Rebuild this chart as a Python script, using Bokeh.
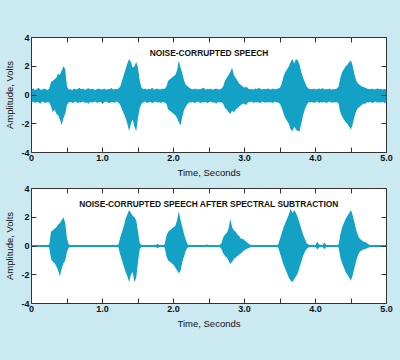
from bokeh.plotting import figure
from bokeh.layouts import column
from bokeh.models import FixedTicker, LinearAxis, Label, ColumnDataSource, Range1d
from bokeh.embed import file_html
from bokeh.resources import INLINE

# ---- data (envelope of the waveform, one reading every 0.025 s) ----
STEP = 0.025

noisy_upper = [
    0.40, 0.45, 0.35, 0.42, 0.50, 0.38, 0.36, 0.46, 0.40, 0.35, 0.45,
    0.90, 1.00, 1.10, 1.20, 1.50, 1.40, 1.70, 2.00, 1.80, 0.60, 0.38,
    0.40, 0.35, 0.45, 0.38, 0.42, 0.50, 0.40, 0.45, 0.36, 0.40, 0.48, 0.38, 0.44, 0.40,
    0.35, 0.42, 0.46, 0.38, 0.40, 0.45, 0.36, 0.42, 0.40, 0.48, 0.38, 0.42, 0.40, 0.45,
    0.60, 1.00, 1.40, 1.80, 2.20, 2.50, 2.30, 1.90, 2.00, 2.30, 1.90, 1.00, 0.50,
    0.40, 0.45, 0.38, 0.42, 0.40, 0.50, 0.36, 0.42, 0.45, 0.38, 0.40, 0.46, 0.42,
    0.60, 1.00, 1.10, 1.20, 1.30, 1.40, 1.70, 2.40, 1.90, 1.50, 1.00, 0.70, 0.60, 0.50,
    0.42, 0.40, 0.46, 0.38, 0.42, 0.40, 0.45, 0.50, 0.38, 0.42, 0.40, 0.46, 0.36, 0.42,
    0.45, 0.40, 0.38, 0.45,
    0.60, 1.00, 1.20, 1.40, 1.60, 1.90, 1.40, 1.20, 1.00, 0.80, 0.70, 0.60, 0.50, 0.60, 0.45,
    0.40, 0.42, 0.38, 0.45, 0.40, 0.50, 0.42, 0.38, 0.44, 0.40, 0.46, 0.42, 0.38, 0.45,
    0.40, 0.42, 0.45,
    0.50, 0.80, 1.30, 1.60, 1.80, 2.00, 2.30, 2.50, 2.20, 2.50, 2.40, 2.10, 1.60, 1.20,
    0.90, 0.60, 0.45,
    0.42, 0.40, 0.46, 0.38, 0.42, 0.45, 0.40, 0.48, 0.38, 0.42, 0.40, 0.45, 0.36, 0.42,
    0.40, 0.46,
    0.60, 1.20, 1.60, 1.80, 2.00, 2.10, 2.30, 2.40, 2.00, 1.40, 1.00, 0.80, 0.70, 0.60,
    0.55, 0.50, 0.45,
    0.42, 0.40, 0.45, 0.38, 0.42, 0.46, 0.40, 0.44, 0.38, 0.42, 0.40,
]
noisy_lower = [
    -0.50, -0.45, -0.55, -0.48, -0.52, -0.60, -0.46, -0.50, -0.55, -0.48, -0.52,
    -0.80, -1.20, -1.00, -1.30, -1.40, -1.70, -2.10, -1.60, -1.30, -0.70, -0.50,
    -0.48, -0.55, -0.50, -0.46, -0.58, -0.50, -0.52, -0.45, -0.55, -0.50, -0.60, -0.48,
    -0.52, -0.50, -0.46, -0.55, -0.50, -0.48, -0.62, -0.50, -0.46, -0.52, -0.55, -0.48,
    -0.50, -0.54, -0.46, -0.52,
    -0.70, -1.00, -1.30, -1.60, -2.00, -2.50, -2.00, -1.70, -2.20, -2.50, -1.60, -0.90, -0.60,
    -0.50, -0.46, -0.55, -0.50, -0.48, -0.56, -0.50, -0.46, -0.52, -0.50, -0.55, -0.48, -0.52,
    -0.60, -1.00, -1.10, -1.20, -1.30, -1.40, -1.60, -1.90, -2.10, -1.50, -1.00, -0.80,
    -0.60, -0.50,
    -0.52, -0.48, -0.55, -0.50, -0.46, -0.58, -0.50, -0.52, -0.48, -0.55, -0.50, -0.46,
    -0.54, -0.50, -0.60, -0.48, -0.52, -0.50,
    -0.60, -0.90, -1.00, -1.20, -1.30, -1.10, -1.20, -1.00, -0.90, -0.80, -0.70, -0.60,
    -0.60, -0.70, -0.50,
    -0.50, -0.46, -0.55, -0.48, -0.52, -0.50, -0.58, -0.46, -0.50, -0.54, -0.48, -0.52,
    -0.50, -0.56, -0.46, -0.50, -0.52,
    -0.60, -0.90, -1.30, -1.60, -1.80, -2.00, -2.40, -2.50, -2.20, -2.40, -2.50, -2.50,
    -2.00, -1.40, -1.00, -0.70, -0.50,
    -0.52, -0.48, -0.55, -0.50, -0.46, -0.56, -0.50, -0.52, -0.48, -0.55, -0.50, -0.46,
    -0.54, -0.50, -0.52, -0.48,
    -0.60, -1.20, -1.50, -1.70, -1.90, -2.00, -2.20, -2.40, -2.00, -1.50, -1.10, -0.90,
    -0.80, -0.70, -0.60, -0.60, -0.50,
    -0.52, -0.48, -0.55, -0.50, -0.46, -0.54, -0.50, -0.52, -0.48, -0.55, -0.50,
]
clean_upper = [
    0.07, 0.07, 0.07, 0.07, 0.07, 0.07, 0.07, 0.07, 0.07, 0.07,
    0.10, 1.00, 1.10, 1.20, 1.30, 1.50, 1.60, 1.80, 2.00, 1.60, 0.50, 0.10,
    0.07, 0.07, 0.07, 0.07, 0.07, 0.07, 0.07, 0.07, 0.07, 0.07, 0.07, 0.07, 0.07, 0.07,
    0.07, 0.07, 0.07, 0.07, 0.07, 0.07, 0.07, 0.07, 0.07, 0.07, 0.07, 0.07, 0.07,
    0.10, 0.60, 1.00, 1.40, 1.90, 2.20, 2.50, 2.30, 2.10, 2.00, 1.80, 1.00, 0.20,
    0.07, 0.07, 0.07, 0.07, 0.07, 0.07, 0.07, 0.07, 0.07, 0.15, 0.07, 0.07, 0.07,
    0.10, 0.70, 1.00, 1.10, 1.20, 1.30, 1.40, 1.80, 2.40, 1.80, 1.30, 0.80, 0.40, 0.10,
    0.07, 0.07, 0.07, 0.07, 0.07, 0.07, 0.07, 0.07, 0.07, 0.07, 0.10, 0.07, 0.07, 0.07,
    0.07, 0.07, 0.07, 0.07,
    0.20, 0.60, 0.80, 0.90, 1.20, 1.90, 1.30, 1.10, 1.00, 0.80, 0.70, 0.50, 0.50, 0.40,
    0.30, 0.20, 0.10,
    0.07, 0.07, 0.07, 0.07, 0.07, 0.07, 0.07, 0.07, 0.07, 0.07, 0.07, 0.07, 0.07, 0.07, 0.07,
    0.10, 0.50, 0.90, 1.30, 1.60, 1.90, 2.20, 2.60, 2.30, 2.50, 2.30, 2.00, 1.60, 1.20,
    0.80, 0.50, 0.20, 0.10,
    0.07, 0.07, 0.07, 0.07, 0.30, 0.10, 0.07, 0.07, 0.25, 0.07, 0.07, 0.07, 0.07, 0.07,
    0.07, 0.07,
    0.10, 0.80, 1.30, 1.60, 1.90, 2.10, 2.30, 2.50, 2.10, 1.60, 1.10, 0.70, 0.50, 0.40,
    0.30, 0.30, 0.20, 0.10,
    0.07, 0.07, 0.07, 0.07, 0.07, 0.07, 0.07, 0.07, 0.07, 0.07,
]
clean_lower = [
    -0.07, -0.07, -0.07, -0.07, -0.07, -0.07, -0.07, -0.07, -0.07, -0.07,
    -0.10, -0.90, -1.10, -1.20, -1.40, -1.70, -2.10, -1.60, -1.20, -1.00, -0.40, -0.10,
    -0.07, -0.07, -0.07, -0.07, -0.07, -0.07, -0.07, -0.07, -0.07, -0.07, -0.07, -0.07,
    -0.07, -0.07, -0.07, -0.07, -0.07, -0.07, -0.07, -0.07, -0.07, -0.07, -0.07, -0.07,
    -0.07, -0.07, -0.07,
    -0.10, -0.60, -1.00, -1.40, -1.80, -2.10, -2.50, -2.00, -1.80, -2.50, -2.20, -1.10, -0.20,
    -0.07, -0.07, -0.07, -0.07, -0.07, -0.07, -0.07, -0.07, -0.07, -0.15, -0.07, -0.07, -0.07,
    -0.10, -0.70, -1.00, -1.10, -1.20, -1.30, -1.50, -1.70, -1.90, -1.70, -1.10, -0.70,
    -0.30, -0.10,
    -0.07, -0.07, -0.07, -0.07, -0.07, -0.07, -0.07, -0.07, -0.07, -0.07, -0.07, -0.07,
    -0.07, -0.07, -0.07, -0.07, -0.07, -0.07,
    -0.20, -0.50, -0.70, -0.80, -1.00, -1.25, -1.10, -0.90, -0.80, -0.70, -0.60, -0.50,
    -0.40, -0.30, -0.20, -0.15, -0.10,
    -0.07, -0.07, -0.07, -0.07, -0.07, -0.07, -0.07, -0.07, -0.07, -0.07, -0.07, -0.07,
    -0.07, -0.07, -0.07,
    -0.10, -0.50, -0.90, -1.30, -1.60, -1.90, -2.20, -2.40, -2.50, -2.30, -2.10, -1.90,
    -1.50, -1.10, -0.70, -0.40, -0.20, -0.10,
    -0.07, -0.07, -0.07, -0.07, -0.25, -0.10, -0.07, -0.07, -0.20, -0.07, -0.07, -0.07,
    -0.07, -0.07, -0.07, -0.07,
    -0.10, -0.80, -1.20, -1.50, -1.80, -2.00, -2.20, -2.40, -2.00, -1.50, -1.00, -0.60,
    -0.40, -0.30, -0.25, -0.20, -0.15, -0.10,
    -0.07, -0.07, -0.07, -0.07, -0.07, -0.07, -0.07, -0.07, -0.07, -0.07,
]
time_s = [round(i * STEP, 3) for i in range(len(noisy_upper))]

x_ticks = [0, 0.5, 1, 1.5, 2, 2.5, 3, 3.5, 4, 4.5, 5]
x_tick_labels = {0: "0", 0.5: "", 1: "1.0", 1.5: "", 2: "2.0", 2.5: "",
                 3: "3.0", 3.5: "", 4: "4.0", 4.5: "", 5: "5.0"}
y_ticks = [-4, -2, 0, 2, 4]
y_tick_labels = {-4: "-4", -2: "-2", 0: "0", 2: "2", 4: "4"}

titles = ["NOISE-CORRUPTED SPEECH",
          "NOISE-CORRUPTED SPEECH AFTER SPECTRAL SUBTRACTION"]

BG = "#cbe9f1"
WAVE = "#13a2c6"
FRAME = "#333333"
FONT = "Liberation Sans"


def style_axis(ax, ticks, overrides, show_labels):
    ax.ticker = FixedTicker(ticks=ticks)
    ax.major_tick_in = 5
    ax.major_tick_out = 0
    ax.minor_tick_in = 0
    ax.minor_tick_out = 0
    ax.major_tick_line_color = FRAME
    ax.axis_line_color = None
    ax.major_label_text_font = FONT
    ax.major_label_text_font_style = "bold"
    ax.major_label_text_color = "#111111"
    if show_labels:
        ax.major_label_overrides = overrides
        ax.major_label_text_font_size = "9px"
        ax.major_label_standoff = 2
    else:
        ax.major_label_overrides = {k: "" for k in overrides}
        ax.major_label_text_font_size = "0px"
        ax.major_label_standoff = 0


def make_panel(upper, lower, title, height, top, bottom):
    p = figure(width=400, height=height, output_backend="svg", toolbar_location=None,
               x_range=Range1d(0, 5), y_range=Range1d(-4, 4),
               min_border_left=31, min_border_right=14,
               min_border_top=top, min_border_bottom=bottom,
               background_fill_color="white", border_fill_color=BG,
               outline_line_color=FRAME, outline_line_width=1)
    p.xgrid.visible = False
    p.ygrid.visible = False
    src = ColumnDataSource(dict(t=time_s, up=upper, lo=lower))
    p.varea(x="t", y1="lo", y2="up", source=src, fill_color=WAVE)

    style_axis(p.xaxis[0], x_ticks, x_tick_labels, True)
    style_axis(p.yaxis[0], y_ticks, y_tick_labels, True)
    p.xaxis[0].axis_label = "Time, Seconds"
    p.yaxis[0].axis_label = "Amplitude, Volts"
    for ax in (p.xaxis[0], p.yaxis[0]):
        ax.axis_label_text_font = FONT
        ax.axis_label_text_font_style = "normal"
        ax.axis_label_text_font_size = "9.5px"
        ax.axis_label_text_color = "#111111"
        ax.axis_label_standoff = 3

    top_ax = LinearAxis()
    style_axis(top_ax, x_ticks, x_tick_labels, False)
    p.add_layout(top_ax, "above")
    right_ax = LinearAxis()
    style_axis(right_ax, y_ticks, y_tick_labels, False)
    p.add_layout(right_ax, "right")

    p.add_layout(Label(x=2.5, y=2.95, text=title, text_align="center",
                       text_baseline="middle", text_font=FONT,
                       text_font_style="bold", text_font_size="8.4px",
                       text_color="#111111"))
    return p


p1 = make_panel(noisy_upper, noisy_lower, titles[0], 180, 37, 23)
p2 = make_panel(clean_upper, clean_lower, titles[1], 180, 8, 57)
p = column(p1, p2, spacing=0, styles={"background-color": BG})

open("out.html", "w").write(file_html(p, INLINE))
